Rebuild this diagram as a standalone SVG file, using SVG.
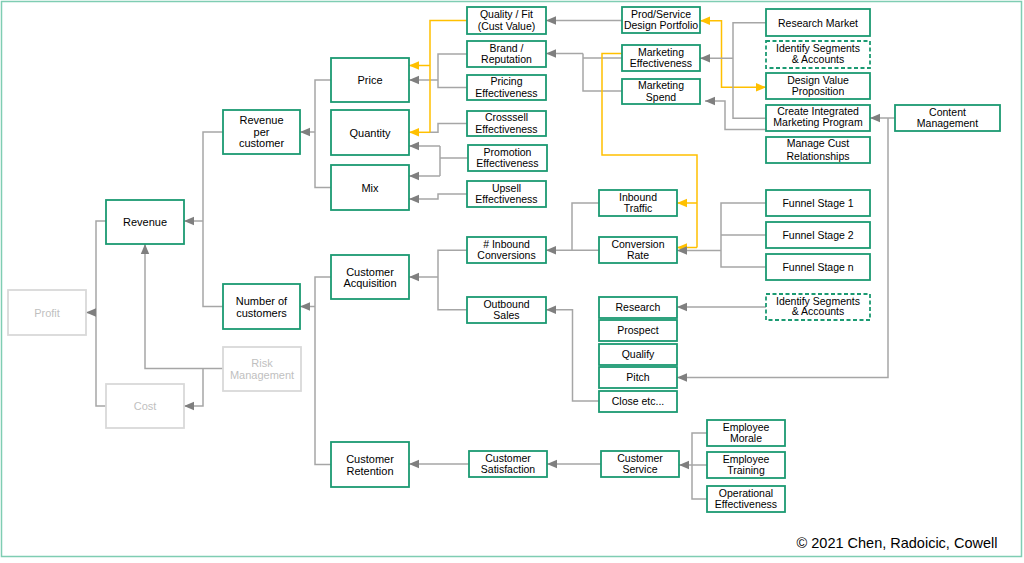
<svg xmlns="http://www.w3.org/2000/svg" width="1024" height="563" viewBox="0 0 1024 563">
<style>
.n rect{fill:#fff;stroke:#1b9a72;stroke-width:1.8}
.n.d rect{stroke-dasharray:4 2.5}
.g rect{fill:#fff;stroke:#d9d9d9;stroke-width:1.8}
text{font-family:"Liberation Sans",Arial,sans-serif;font-size:10.5px;text-anchor:middle;fill:#000}
.b text{font-size:11px}
.g text{fill:#bfbfbf;font-size:11px}
.c path{fill:none;stroke:#a6a6a6;stroke-width:1.5}
.c path.a{marker-end:url(#ga)}
.c path.y{stroke:#ffc000}
.c path.ya{stroke:#ffc000;marker-end:url(#ya)}
.c path.yy{stroke:#ffc000;marker-end:url(#ya);marker-start:url(#ya)}
</style>
<defs>
<marker id="ga" markerUnits="userSpaceOnUse" markerWidth="10" markerHeight="10" viewBox="0 0 10 10" refX="10" refY="5" orient="auto-start-reverse"><path d="M0,0.8 L10,5 L0,9.2 Z" fill="#7f7f7f"/></marker>
<marker id="ya" markerUnits="userSpaceOnUse" markerWidth="10" markerHeight="10" viewBox="0 0 10 10" refX="10" refY="5" orient="auto-start-reverse"><path d="M0,0.8 L10,5 L0,9.2 Z" fill="#ffc000"/></marker>
</defs>
<rect x="1.5" y="1.5" width="1020" height="555" fill="#fff" stroke="#7fcdb3" stroke-width="1.5"/>
<g id="connectors" class="c">
<path d="M223,132 H203 V306.5 H223"/>
<path class="a" d="M203,221 H184"/>
<path d="M106,221 H96 V406 H106"/>
<path class="a" d="M96,312.5 H86"/>
<path class="a" d="M223,368.5 H145 V244"/>
<path class="a" d="M203,368.5 V406 H184"/>
<path d="M331,80 H315 V187.5 H331"/>
<path class="a" d="M315,132 H300"/>
<path d="M331,277 H315 V464.5 H331"/>
<path class="a" d="M315,306.5 H300"/>
<path d="M467,54 H438 V87.5 H467"/>
<path class="a" d="M438,80 H409"/>
<path d="M467,123.5 H438 V132.3 H430"/>
<path d="M468,158 H440 M440,146 V176"/>
<path class="a" d="M440,146 H409"/>
<path class="a" d="M440,176 H409"/>
<path class="a" d="M467,194 H438 V199 H409"/>
<path class="y" d="M467,20.5 H430 V132.3"/>
<path class="ya" d="M430,65.5 H409"/>
<path class="ya" d="M430,132.3 H409"/>
<path class="a" d="M622,20.5 H546"/>
<path d="M622,58 H583 M583,53.5 V91 H622"/>
<path class="a" d="M583,53.5 H546"/>
<path class="y" d="M622,53.5 H602 V155 H697 V247.5"/>
<path class="ya" d="M697,203 H677"/>
<path class="ya" d="M697,247.5 H677"/>
<path class="yy" d="M700,20.7 H721.5 V87.3 H766"/>
<path d="M766,22.7 H733 V118.3 H766"/>
<path class="a" d="M733,58.3 H700"/>
<path class="a" d="M773,129.5 H725 V101 H705"/>
<path class="a" d="M895,118 H870"/>
<path class="a" d="M888,118 V377.5 H677"/>
<path class="a" d="M766,307 H677"/>
<path d="M766,203 H721 V267 H766 M766,235 H721"/>
<path class="a" d="M721,250.5 H677"/>
<path d="M599,203 H572 V250"/>
<path class="a" d="M599,250.3 H546"/>
<path d="M467,250.3 H438 V309.7 H467"/>
<path class="a" d="M438,277 H409"/>
<path class="a" d="M599,401 H572.5 V309.7 H546"/>
<path class="a" d="M469,464 H409"/>
<path class="a" d="M601,464 H547"/>
<path d="M707,433 H692 V499 H707"/>
<path class="a" d="M707,465 H679"/>
</g>
<g id="profit" class="g"><rect x="8" y="290" width="78" height="45"/><text x="47" y="316.5">Profit</text></g>
<g id="cost" class="g"><rect x="106" y="384" width="78" height="44"/><text x="145" y="410">Cost</text></g>
<g id="risk" class="g"><rect x="223" y="347" width="78" height="44"/><text x="262" y="367">Risk<tspan x="262" dy="11.5">Management</tspan></text></g>
<g id="revenue" class="n b"><rect x="106" y="200" width="78" height="44"/><text x="145" y="226">Revenue</text></g>
<g id="rpc" class="n b"><rect x="223" y="110" width="77" height="44"/><text x="261.5" y="124">Revenue<tspan x="261.5" dy="11.7">per</tspan><tspan x="261.5" dy="11.7">customer</tspan></text></g>
<g id="noc" class="n b"><rect x="223" y="284" width="77" height="45"/><text x="261.5" y="305">Number of<tspan x="261.5" dy="11.5">customers</tspan></text></g>
<g id="price" class="n b"><rect x="331" y="58" width="78" height="44"/><text x="370" y="84">Price</text></g>
<g id="quantity" class="n b"><rect x="331" y="110" width="78" height="45"/><text x="370" y="136.5">Quantity</text></g>
<g id="mix" class="n b"><rect x="331" y="165" width="78" height="45"/><text x="370" y="191.5">Mix</text></g>
<g id="cacq" class="n b"><rect x="331" y="255" width="78" height="44"/><text x="370" y="275.5">Customer<tspan x="370" dy="11.5">Acquisition</tspan></text></g>
<g id="cret" class="n b"><rect x="331" y="442" width="78" height="45"/><text x="370" y="463">Customer<tspan x="370" dy="11.5">Retention</tspan></text></g>
<g id="quality" class="n"><rect x="467" y="7" width="79" height="27"/><text x="506.5" y="18">Quality / Fit<tspan x="506.5" dy="11.5">(Cust Value)</tspan></text></g>
<g id="brand" class="n"><rect x="467" y="41" width="79" height="26"/><text x="506.5" y="51.5">Brand /<tspan x="506.5" dy="11.5">Reputation</tspan></text></g>
<g id="pricing" class="n"><rect x="467" y="75" width="79" height="25"/><text x="506.5" y="85">Pricing<tspan x="506.5" dy="11.5">Effectiveness</tspan></text></g>
<g id="crosssell" class="n"><rect x="467" y="111" width="79" height="25"/><text x="506.5" y="121">Crosssell<tspan x="506.5" dy="11.5">Effectiveness</tspan></text></g>
<g id="promotion" class="n"><rect x="468" y="145" width="79" height="26"/><text x="507.5" y="155.5">Promotion<tspan x="507.5" dy="11.5">Effectiveness</tspan></text></g>
<g id="upsell" class="n"><rect x="467" y="181" width="79" height="26"/><text x="506.5" y="191.5">Upsell<tspan x="506.5" dy="11.5">Effectiveness</tspan></text></g>
<g id="inconv" class="n"><rect x="467" y="237" width="79" height="26"/><text x="506.5" y="247.5"># Inbound<tspan x="506.5" dy="11.5">Conversions</tspan></text></g>
<g id="outbound" class="n"><rect x="467" y="297" width="79" height="26"/><text x="506.5" y="307.5">Outbound<tspan x="506.5" dy="11.5">Sales</tspan></text></g>
<g id="csat" class="n"><rect x="469" y="451" width="78" height="26"/><text x="508" y="461.5">Customer<tspan x="508" dy="11.5">Satisfaction</tspan></text></g>
<g id="prod" class="n"><rect x="622" y="7" width="78" height="26"/><text x="661" y="17.5">Prod/Service<tspan x="661" dy="11.5">Design Portfolio</tspan></text></g>
<g id="mkteff" class="n"><rect x="622" y="45" width="78" height="26"/><text x="661" y="55.5">Marketing<tspan x="661" dy="11.5">Effectiveness</tspan></text></g>
<g id="mktspend" class="n"><rect x="622" y="79" width="78" height="25"/><text x="661" y="89">Marketing<tspan x="661" dy="11.5">Spend</tspan></text></g>
<g id="intraffic" class="n"><rect x="599" y="190" width="78" height="26"/><text x="638" y="200.5">Inbound<tspan x="638" dy="11.5">Traffic</tspan></text></g>
<g id="convrate" class="n"><rect x="599" y="237" width="78" height="26"/><text x="638" y="247.5">Conversion<tspan x="638" dy="11.5">Rate</tspan></text></g>
<g id="research" class="n"><rect x="599" y="297" width="78" height="21"/><text x="638" y="311">Research</text></g>
<g id="prospect" class="n"><rect x="599" y="320" width="78" height="21"/><text x="638" y="334">Prospect</text></g>
<g id="qualify" class="n"><rect x="599" y="344" width="78" height="21"/><text x="638" y="358">Qualify</text></g>
<g id="pitch" class="n"><rect x="599" y="367" width="78" height="21"/><text x="638" y="381">Pitch</text></g>
<g id="close" class="n"><rect x="599" y="391" width="78" height="21"/><text x="638" y="405">Close etc...</text></g>
<g id="cservice" class="n"><rect x="601" y="451" width="78" height="26"/><text x="640" y="461.5">Customer<tspan x="640" dy="11.5">Service</tspan></text></g>
<g id="resmarket" class="n"><rect x="766" y="9" width="104" height="27"/><text x="818" y="26.5">Research Market</text></g>
<g id="identify1" class="n d"><rect x="766" y="41" width="104" height="27"/><text x="818" y="52">Identify Segments<tspan x="818" dy="10.5">&amp; Accounts</tspan></text></g>
<g id="dvp" class="n"><rect x="766" y="73" width="104" height="26"/><text x="818" y="83.5">Design Value<tspan x="818" dy="11.5">Proposition</tspan></text></g>
<g id="cimp" class="n"><rect x="766" y="105" width="104" height="26"/><text x="818" y="115">Create Integrated<tspan x="818" dy="10.5">Marketing Program</tspan></text></g>
<g id="mcr" class="n"><rect x="766" y="137" width="104" height="26"/><text x="818" y="147">Manage Cust<tspan x="818" dy="13">Relationships</tspan></text></g>
<g id="content" class="n"><rect x="895" y="105" width="105" height="26"/><text x="947.5" y="115.5">Content<tspan x="947.5" dy="11.5">Management</tspan></text></g>
<g id="funnel1" class="n"><rect x="766" y="190" width="104" height="26"/><text x="818" y="207">Funnel Stage 1</text></g>
<g id="funnel2" class="n"><rect x="766" y="222" width="104" height="26"/><text x="818" y="239">Funnel Stage 2</text></g>
<g id="funneln" class="n"><rect x="766" y="254" width="104" height="26"/><text x="818" y="271">Funnel Stage n</text></g>
<g id="identify2" class="n d"><rect x="766" y="294" width="104" height="26"/><text x="818" y="304.5">Identify Segments<tspan x="818" dy="10.5">&amp; Accounts</tspan></text></g>
<g id="morale" class="n"><rect x="707" y="420" width="78" height="26"/><text x="746" y="430.5">Employee<tspan x="746" dy="11.5">Morale</tspan></text></g>
<g id="training" class="n"><rect x="707" y="452" width="78" height="26"/><text x="746" y="462.5">Employee<tspan x="746" dy="11.5">Training</tspan></text></g>
<g id="opeff" class="n"><rect x="707" y="486" width="78" height="26"/><text x="746" y="496.5">Operational<tspan x="746" dy="11.5">Effectiveness</tspan></text></g>
<text x="897" y="548" style="font-size:14.5px">© 2021 Chen, Radoicic, Cowell</text>
</svg>
